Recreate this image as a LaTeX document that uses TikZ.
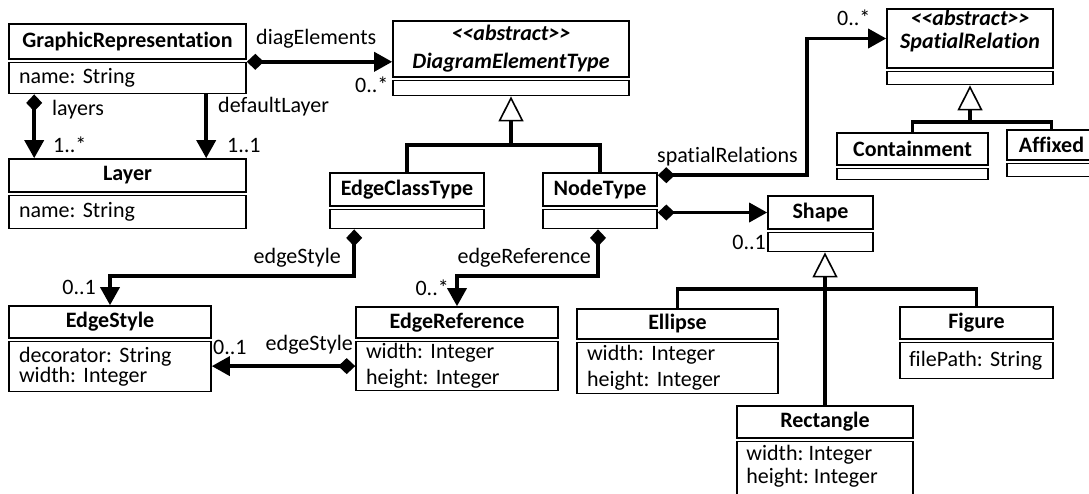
\documentclass[tikz,border=0pt]{standalone}
\usepackage{fontspec}
\setmainfont{Carlito}[Ligatures=NoCommon]
\usetikzlibrary{arrows.meta}
\frenchspacing

\begin{document}
\begin{tikzpicture}[x=1pt, y=-1pt,
    every node/.style={font=\fontsize{22}{26}\selectfont},
    hdr/.style={draw, line width=1.6pt, inner sep=0pt, align=center,
      font=\fontsize{22}{28}\selectfont\bfseries},
    body/.style={draw, line width=1.6pt, anchor=north, inner xsep=10pt,
      inner ysep=0pt, align=left},
    lbl/.style={inner sep=0pt},
    bar/.style={line width=3.5pt},
    assoc/.style={bar, -{Triangle[length=18pt,width=19pt]}},
    comp/.style={bar, {Diamond[length=17pt,width=16pt]}-{Triangle[length=18pt,width=19pt]}},
    gen/.style={bar, -{Triangle[open,length=25pt,width=25pt,line width=1.6pt]}}]

  \useasboundingbox (0,0) rectangle (1089,493);

  % classes, top row
  \node[hdr, minimum width=237pt, minimum height=35pt] (gr) at (127.5,41.5) {GraphicRepresentation};
  \node[body, text width=217pt, minimum height=31pt] (gr-a) at ([yshift=-2pt]gr.south) {name: String};

  \node[hdr, minimum width=236pt, minimum height=56pt] (det) at (511,49)
    {\textit{{<}{<}abstract{>}{>}}\\\textit{DiagramElementType}};
  \node[body, text width=216pt, minimum height=15pt] (det-a) at ([yshift=-2pt]det.south) {};

  \node[hdr, minimum width=166pt, minimum height=59pt] (sr) at (970,38.5) {};
  \node[hdr, draw=none] (sr-t) at (970,31.5)
    {\textit{{<}{<}abstract{>}{>}}\\[-5pt]\textit{SpatialRelation}};
  \node[body, text width=146pt, minimum height=13pt] (sr-a) at ([yshift=-2pt]sr.south) {};

  \node[hdr, minimum width=151pt, minimum height=32pt] (cont) at (912.5,149) {Containment};
  \node[body, text width=131pt, minimum height=11pt] (cont-a) at ([yshift=-2pt]cont.south) {};

  \node[hdr, minimum width=89pt, minimum height=30pt] (aff) at (1051.5,145) {Affixed};
  \node[body, text width=69pt, minimum height=13pt] (aff-a) at ([yshift=-2pt]aff.south) {};

  % classes, middle row
  \node[hdr, minimum width=237pt, minimum height=33pt] (layer) at (127.5,175.5) {Layer};
  \node[body, text width=217pt, minimum height=33pt] (layer-a) at ([yshift=-2pt]layer.south) {name: String};

  \node[hdr, minimum width=154pt, minimum height=33pt] (ect) at (407,189.5) {EdgeClassType};
  \node[body, text width=134pt, minimum height=19pt] (ect-a) at ([yshift=-2pt]ect.south) {};

  \node[hdr, minimum width=114pt, minimum height=33pt] (nt) at (600,189.5) {NodeType};
  \node[body, text width=94pt, minimum height=19pt] (nt-a) at ([yshift=-2pt]nt.south) {};

  \node[hdr, minimum width=105pt, minimum height=33pt] (shape) at (820.5,212.5) {Shape};
  \node[body, text width=85pt, minimum height=19pt] (shape-a) at ([yshift=-2pt]shape.south) {};

  % classes, bottom row
  \node[hdr, minimum width=202pt, minimum height=32pt] (es) at (110,322) {EdgeStyle};
  \node[body, text width=182pt, minimum height=50pt] (es-a) at ([yshift=-2pt]es.south)
    {decorator: String\\[-6pt]width: Integer\\[-4pt]};

  \node[hdr, minimum width=202pt, minimum height=31pt] (er) at (457,322.5) {EdgeReference};
  \node[body, text width=182pt, minimum height=49pt] (er-a) at ([yshift=-2pt]er.south)
    {width: Integer\\height: Integer};

  \node[hdr, minimum width=201pt, minimum height=30pt] (ell) at (677.5,324) {Ellipse};
  \node[body, text width=181pt, minimum height=51pt] (ell-a) at ([yshift=-2pt]ell.south)
    {width: Integer\\height: Integer};

  \node[hdr, minimum width=153pt, minimum height=32pt] (fig) at (976.5,323) {Figure};
  \node[body, inner xsep=9pt, text width=135pt, minimum height=36pt] (fig-a) at ([yshift=-2pt]fig.south) {filePath: String};

  \node[hdr, minimum width=176pt, minimum height=32pt] (rect) at (825,422) {Rectangle};
  \node[body, text width=156pt, minimum height=60pt] (rect-a) at ([yshift=-2pt]rect.south) {};
  \node[lbl, anchor=north west, align=left] (rect-t) at ([xshift=10pt,yshift=-4pt]rect-a.north west)
    {width: Integer\\[-3pt]height: Integer};

  % generalizations
  \coordinate (det-j) at (511,145);
  \draw[gen] (det-j) -- (det-a.south);
  \draw[bar] (ect.north) |- (det-j) -| (nt.north);

  \coordinate (sr-j) at (970,122);
  \draw[gen] (sr-j) -- (sr-a.south);
  \draw[bar] (cont.north) |- (sr-j) -| (aff.north);

  \coordinate (shp-j) at (825,289);
  \draw[gen] (rect.north) -- (rect.north |- shape-a.south);
  \draw[bar] (ell.north) |- (shp-j) -| (fig.north);

  % associations
  \draw[comp] (gr-a.north east) -- (gr-a.north east -| det.west);
  \draw[comp] ([xshift=26pt]gr-a.south west) -- ([xshift=26pt]layer.north west);
  \draw[assoc] ([xshift=198pt]gr-a.south west) -- ([xshift=198pt]layer.north west);
  \draw[comp] ([yshift=-3pt]nt.north east) -| ([xshift=-79pt]sr.west) -- (sr.west);
  \draw[comp] (nt-a.east |- shape.west) -- (shape.west);
  \draw[comp] ([xshift=25pt]ect-a.south west) |- ([yshift=29pt]es.north) -- (es.north);
  \draw[comp] ([xshift=-2pt]nt-a.south) |- ([yshift=30pt]er.north) -- (er.north);
  \draw[comp] (er-a.west) -- (er-a.west -| es-a.east);

  % role names and multiplicities
  \node[lbl, anchor=west] (l-diag) at (256,39) {diagElements};
  \node[lbl, anchor=west] (m-diag) at (355,85) {0..*};
  \node[lbl, anchor=west] (l-layers) at (52,110) {layers};
  \node[lbl, anchor=west] (m-layers) at (53,145) {1..*};
  \node[lbl, anchor=west] (l-deflayer) at (218,107) {defaultLayer};
  \node[lbl, anchor=west] (m-deflayer) at (227,146) {1..1};
  \node[lbl, anchor=west] (l-spatial) at (657,157) {spatialRelations};
  \node[lbl, anchor=west] (m-spatial) at (837,18) {0..*};
  \node[lbl, anchor=east] (m-shape) at (766,242) {0..1};
  \node[lbl, anchor=east] (l-es1) at (341,258) {edgeStyle};
  \node[lbl, anchor=east] (m-es1) at (96,287) {0..1};
  \node[lbl, anchor=east] (l-eref) at (591,258) {edgeReference};
  \node[lbl, anchor=east] (m-eref) at (449,288) {0..*};
  \node[lbl, anchor=west] (m-es2) at (213,347) {0..1};
  \node[lbl, anchor=east] (l-es2) at (353,345) {edgeStyle};

\end{tikzpicture}
\end{document}
